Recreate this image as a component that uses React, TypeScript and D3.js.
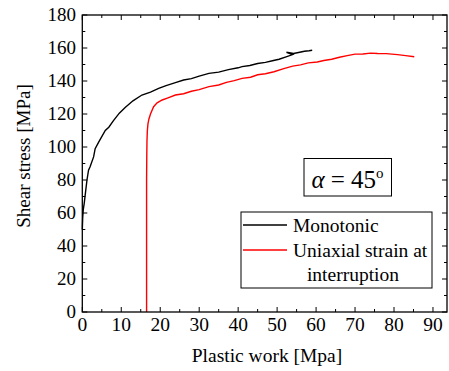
import React from "react";
import * as d3 from "d3";

const monoX = [0, 0.1, 0.25, 0.5, 0.8, 1.2, 1.6, 2.0, 2.9, 3.3, 4.2, 5.9, 6.8, 8, 9.5, 11, 13, 15.3, 17.5, 19.6, 21.5, 23.9, 26, 28, 30, 32.5, 35, 37.5, 40, 41, 43, 45, 47, 48.8, 50.5, 52.3, 54.0, 52.4, 54.2, 55.5, 57, 58.2, 59];
const monoY = [50, 57, 62, 66, 72, 80, 86, 88, 94, 99, 103, 110, 112, 116, 120.5, 124, 128, 131.5, 133.3, 135.5, 137.2, 139, 140.6, 141.4, 143, 144.6, 145.4, 146.9, 148, 148.7, 149.4, 150.6, 151.3, 152.3, 153.2, 154.6, 156.0, 157.4, 156.7, 157.3, 158.0, 158.3, 158.6];

const redX = [16.5, 16.5, 16.5, 16.55, 16.6, 16.7, 16.85, 17.1, 17.5, 18.3, 19.2, 20.5, 22, 23.9, 26, 28, 30, 32.5, 35, 37, 39, 41, 43.2, 45, 47, 49.2, 51.7, 54, 56, 58, 60.3, 62, 64, 66, 68, 70, 72, 74, 75.8, 78, 80.9, 83, 85.2];
const redY = [0, 40, 80, 95, 104, 110, 114, 117, 120, 124.4, 126.8, 128.5, 129.8, 131.5, 132.3, 133.8, 134.8, 136.6, 137.6, 139.2, 140.2, 141.6, 142.3, 143.8, 144.4, 145.6, 147.5, 149, 149.8, 151, 151.5, 152.4, 153.2, 154.4, 155.4, 156.3, 156.4, 156.9, 156.7, 156.6, 156, 155.4, 154.7];

const xTicks = [0, 10, 20, 30, 40, 50, 60, 70, 80, 90];
const yTicks = [0, 20, 40, 60, 80, 100, 120, 140, 160, 180];
const xMinor = [5, 15, 25, 35, 45, 55, 65, 75, 85];
const yMinor = [10, 30, 50, 70, 90, 110, 130, 150, 170];

const seriesNames = ["Monotonic", "Uniaxial strain at", "interruption"];

export default function App() {
  const W = 449, H = 371;
  const L = 82.3, R = 447, T = 15, B = 312;
  const x = d3.scaleLinear().domain([0, 93.6]).range([L, R]);
  const y = d3.scaleLinear().domain([0, 180]).range([B, T]);
  const line = d3.line<[number, number]>().x(d => x(d[0])).y(d => y(d[1]));
  const mono = monoX.map((v, i) => [v, monoY[i]] as [number, number]);
  const red = redX.map((v, i) => [v, redY[i]] as [number, number]);
  const FF = "Liberation Serif";
  const maj = 5, min = 3;
  return (
    <div style={{ fontFamily: `"${FF}"` }}>
      <svg width={W} height={H} style={{ position: "absolute", left: 0, top: 0 }}>
        <style>{`text, tspan { font-family: "Liberation Serif", "Times New Roman", serif !important; }`}</style>
        <rect x={0} y={0} width={W} height={H} fill="#fff" />
        <path d={line(mono) || ""} fill="none" stroke="#000" strokeWidth={1.4} />
        <path d={line(red) || ""} fill="none" stroke="#ff0000" strokeWidth={1.4} />
        <rect x={L} y={T} width={R - L} height={B - T} fill="none" stroke="#000" strokeWidth={1.3} />
        {xTicks.map(t => (
          <g key={"xt" + t}>
            <line x1={x(t)} x2={x(t)} y1={B} y2={B - maj} stroke="#000" strokeWidth={1} />
            <line x1={x(t)} x2={x(t)} y1={T} y2={T + maj} stroke="#000" strokeWidth={1} />
            <text x={x(t)} y={331} fontSize={19.5} textAnchor="middle" fontFamily={FF}>{t}</text>
          </g>
        ))}
        {xMinor.map(t => (
          <g key={"xm" + t}>
            <line x1={x(t)} x2={x(t)} y1={B} y2={B - min} stroke="#000" strokeWidth={1} />
            <line x1={x(t)} x2={x(t)} y1={T} y2={T + min} stroke="#000" strokeWidth={1} />
          </g>
        ))}
        {yTicks.map(t => (
          <g key={"yt" + t}>
            <line x1={L} x2={L + maj} y1={y(t)} y2={y(t)} stroke="#000" strokeWidth={1} />
            <line x1={R} x2={R - maj} y1={y(t)} y2={y(t)} stroke="#000" strokeWidth={1} />
            <text x={76} y={y(t) + 6} fontSize={19} textAnchor="end" fontFamily={FF}>{t}</text>
          </g>
        ))}
        {yMinor.map(t => (
          <g key={"ym" + t}>
            <line x1={L} x2={L + min} y1={y(t)} y2={y(t)} stroke="#000" strokeWidth={1} />
            <line x1={R} x2={R - min} y1={y(t)} y2={y(t)} stroke="#000" strokeWidth={1} />
          </g>
        ))}
        <text x={267} y={362} fontSize={19.5} textAnchor="middle" fontFamily={FF}>Plastic work [Mpa]</text>
        <text transform="translate(30,156) rotate(-90)" fontSize={19} textAnchor="middle" fontFamily={FF}>Shear stress [MPa]</text>
        <rect x={304} y={158.5} width={87.5} height={37.5} fill="#fff" stroke="#000" strokeWidth={1} />
        <text x={347.5} y={187.5} fontSize={25} textAnchor="middle" fontFamily={FF}>
          <tspan fontStyle="italic">α</tspan>
          <tspan> = 45</tspan>
          <tspan fontSize={15} dy={-10}>o</tspan>
        </text>
        <rect x={241} y={212} width={191} height={76} fill="#fff" stroke="#000" strokeWidth={1} />
        <line x1={243} x2={287} y1={225} y2={225} stroke="#000" strokeWidth={1.4} />
        <line x1={243} x2={287} y1={250} y2={250} stroke="#ff0000" strokeWidth={1.4} />
        <text x={293} y={231.5} fontSize={19.5} fontFamily={FF}>{seriesNames[0]}</text>
        <text x={293} y={256.5} fontSize={19.5} fontFamily={FF}>{seriesNames[1]}</text>
        <text x={353} y={281} fontSize={19.5} textAnchor="middle" fontFamily={FF}>{seriesNames[2]}</text>
      </svg>
    </div>
  );
}
